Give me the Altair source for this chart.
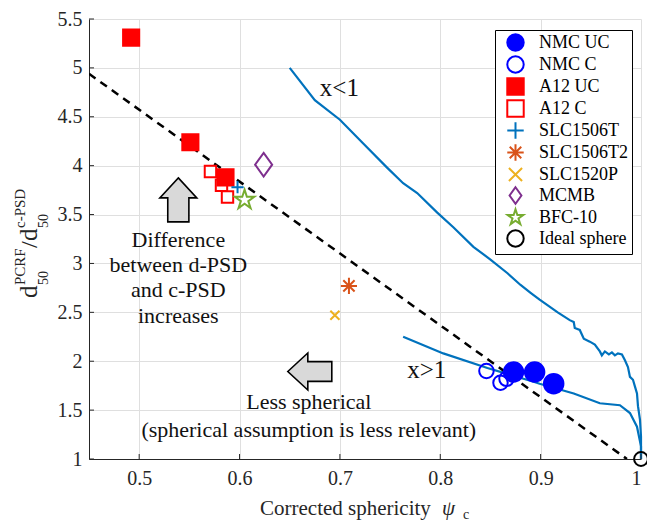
import altair as alt
import pandas as pd

SERIF = "Liberation Serif"

# ---------------- data ----------------
series_names = ["NMC UC", "NMC C", "A12 UC", "A12 C", "SLC1506T", "SLC1506T2",
                "SLC1520P", "MCMB", "BFC-10", "Ideal sphere"]

point_series = (["NMC UC"] * 3 + ["NMC C"] * 3 + ["A12 UC"] * 3 + ["A12 C"] * 3
                + ["SLC1506T", "SLC1506T2", "SLC1520P", "MCMB", "BFC-10", "Ideal sphere"])
point_x = [0.873, 0.894, 0.913,
           0.846, 0.860, 0.866,
           0.492, 0.551, 0.586,
           0.571, 0.582, 0.588,
           0.598, 0.709, 0.695, 0.624, 0.605, 1.0]
point_y = [1.89, 1.89, 1.77,
           1.90, 1.78, 1.82,
           5.31, 4.24, 3.88,
           3.94, 3.80, 3.68,
           3.78, 2.77, 2.47, 4.01, 3.65, 1.0]

# x<1 curve
upper_x = [0.650, 0.675, 0.700, 0.723, 0.747, 0.763, 0.777, 0.797, 0.813, 0.833,
           0.850, 0.867, 0.880, 0.890, 0.899, 0.917, 0.929, 0.933, 0.934, 0.939,
           0.943, 0.949, 0.954, 0.959, 0.961, 0.964, 0.968, 0.971, 0.974, 0.977,
           0.981, 0.984, 0.987, 0.989, 0.992, 0.994, 0.996, 0.997, 0.999, 1.0, 1.0]
upper_y = [5.00, 4.67, 4.47, 4.23, 3.98, 3.82, 3.72, 3.52, 3.37, 3.17,
           3.04, 2.90, 2.78, 2.70, 2.63, 2.50, 2.42, 2.40, 2.34, 2.32,
           2.23, 2.20, 2.17, 2.10, 2.06, 2.10, 2.07, 2.09, 2.06, 2.08,
           2.07, 2.01, 1.94, 1.84, 1.81, 1.74, 1.67, 1.54, 1.40, 1.23, 1.0]

# x>1 curve
lower_x = [0.763, 0.803, 0.847, 0.893, 0.899, 0.933, 0.959, 0.979, 0.989, 0.996, 1.0, 1.0]
lower_y = [2.25, 2.08, 1.93, 1.79, 1.77, 1.67, 1.57, 1.55, 1.47, 1.33, 1.13, 1.0]

# reference (dashed) line
ref_x = [0.45, 0.986]
ref_y = [4.94, 1.0]

x_ticks = [0.5, 0.6, 0.7, 0.8, 0.9, 1.0]
y_ticks = [1, 1.5, 2, 2.5, 3, 3.5, 4, 4.5, 5, 5.5]

annot_text = ["Difference", "between  d-PSD", "and c-PSD", "increases",
              "Less spherical", "(spherical assumption is less relevant)"]
annot_x = [0.539, 0.539, 0.539, 0.539, 0.669, 0.669]
annot_y = [3.24, 2.98, 2.73, 2.46, 1.58, 1.30]

curve_labels = ["x<1", "x>1"]
curve_label_x = [0.680, 0.767]
curve_label_y = [4.79, 1.91]

up_arrow_x, up_arrow_y = [0.539], [3.65]
left_arrow_x, left_arrow_y = [0.670], [1.895]

# ---------------- styles ----------------
PLUS = "M-1,0L1,0M0,-1L0,1"
ASTER = "M-1,0L1,0M0,-1L0,1M-0.7,-0.7L0.7,0.7M-0.7,0.7L0.7,-0.7"
XMARK = "M-0.8,-0.8L0.8,0.8M-0.8,0.8L0.8,-0.8"
DIAMOND = "M0,-1L0.72,0L0,1L-0.72,0Z"
STAR = ("M0,-1L0.2245,-0.309L0.951,-0.309L0.363,0.118L0.588,0.809L0,0.382"
        "L-0.588,0.809L-0.363,0.118L-0.951,-0.309L-0.2245,-0.309Z")
UP_ARROW = "M0,-1L0.84,-0.09L0.48,-0.09L0.48,1L-0.48,1L-0.48,-0.09L-0.84,-0.09Z"
LEFT_ARROW = "M-1,0L-0.09,-0.84L-0.09,-0.45L1,-0.45L1,0.45L-0.09,0.45L-0.09,0.84Z"

series_strokes = ["#0000FF", "#0000FF", "#FF0000", "#FF0000", "#0072BD", "#D95319",
                  "#EDB120", "#7E2F8E", "#77AC30", "#000000"]
series_fills = ["#0000FF", "transparent", "#FF0000", "transparent", "transparent",
                "transparent", "transparent", "transparent", "transparent", "transparent"]
series_shapes = ["circle", "circle", "square", "square", PLUS, ASTER, XMARK, DIAMOND, STAR, "circle"]
series_sizes = [380, 210, 260, 130, 150, 260, 130, 560, 420, 190]

W, H = 552, 440
AXIS_COL = "#262626"
GRID_COL = "#dfdfdf"

x_scale = alt.Scale(domain=[0.45, 1.0], nice=False, zero=False)
y_scale = alt.Scale(domain=[1, 5.5], nice=False, zero=False)

x_axis = alt.Axis(values=x_ticks, format="~g", title="", grid=True, gridColor=GRID_COL,
                  tickSize=0, labelFont=SERIF, labelFontSize=20, labelColor=AXIS_COL,
                  labelPadding=9, domainColor=AXIS_COL, domainWidth=1)
y_axis = alt.Axis(values=y_ticks, format="~g", title="", grid=True, gridColor=GRID_COL,
                  tickSize=0, labelFont=SERIF, labelFontSize=20, labelColor=AXIS_COL,
                  labelPadding=7, domainColor=AXIS_COL, domainWidth=1)

X = alt.X("x:Q", scale=x_scale, axis=x_axis)
Y = alt.Y("y:Q", scale=y_scale, axis=y_axis)

# ---------------- layers ----------------
df_pts = pd.DataFrame({"x": point_x, "y": point_y, "series": point_series,
                       "marker": point_series})

curve_df = pd.DataFrame({
    "x": upper_x + lower_x,
    "y": upper_y + lower_y,
    "curve": ["upper"] * len(upper_x) + ["lower"] * len(lower_x),
    "i": list(range(len(upper_x))) + list(range(len(lower_x))),
})
ref_df = pd.DataFrame({"x": ref_x, "y": ref_y, "i": [0, 1]})

curves = alt.Chart(curve_df).mark_line(color="#0072BD", strokeWidth=2.2).encode(
    x=X, y=Y, detail="curve:N", order="i:Q")

ref_line = alt.Chart(ref_df).mark_line(color="black", strokeWidth=2.5,
                                        strokeDash=[8, 6], clip=True).encode(
    x=X, y=Y, order="i:Q")

leg = alt.Legend(title=None, orient="none", legendX=406, legendY=11,
                 labelFont=SERIF, labelFontSize=18, labelColor="black",
                 padding=3, strokeColor="black", fillColor="white",
                 symbolOffset=8, labelOffset=14, symbolStrokeWidth=2, symbolOpacity=1,
                 symbolSize=270, rowPadding=-3.5, cornerRadius=0)

# the size scale uses a differently ordered domain so that it stays out of the legend
size_domain = series_names[::-1]
size_range = series_sizes[::-1]

points = alt.Chart(df_pts).mark_point(opacity=1, strokeWidth=2, fillOpacity=1).encode(
    x=X, y=Y,
    stroke=alt.Stroke("series:N", scale=alt.Scale(domain=series_names, range=series_strokes), legend=leg),
    fill=alt.Fill("series:N", scale=alt.Scale(domain=series_names, range=series_fills), legend=leg),
    shape=alt.Shape("series:N", scale=alt.Scale(domain=series_names, range=series_shapes), legend=leg),
    size=alt.Size("marker:N", scale=alt.Scale(type="ordinal", domain=size_domain, range=size_range),
                  legend=None),
)

annot_df = pd.DataFrame({"x": annot_x, "y": annot_y, "t": annot_text})
annots = alt.Chart(annot_df).mark_text(font=SERIF, fontSize=22, color="#111111",
                                       align="center", baseline="middle").encode(
    x=X, y=Y, text="t:N")

cl_df = pd.DataFrame({"x": curve_label_x, "y": curve_label_y, "t": curve_labels})
curve_lbls = alt.Chart(cl_df).mark_text(font=SERIF, fontSize=25, color="#111111",
                                        align="left", baseline="middle").encode(
    x=X, y=Y, text="t:N")

up_arrow = alt.Chart(pd.DataFrame({"x": up_arrow_x, "y": up_arrow_y})).mark_point(
    shape=UP_ARROW, size=1936, fill="#d9d9d9", fillOpacity=1, stroke="black",
    strokeWidth=1.6, opacity=1).encode(x=X, y=Y)
left_arrow = alt.Chart(pd.DataFrame({"x": left_arrow_x, "y": left_arrow_y})).mark_point(
    shape=LEFT_ARROW, size=1936, fill="#d9d9d9", fillOpacity=1, stroke="black",
    strokeWidth=1.6, opacity=1).encode(x=X, y=Y)

# inward tick marks
xt = alt.Chart(pd.DataFrame({"x": x_ticks})).mark_rule(color=AXIS_COL, strokeWidth=1).encode(
    x=X, y=alt.value(H), y2=alt.value(H - 5))
yt = alt.Chart(pd.DataFrame({"y": y_ticks})).mark_rule(color=AXIS_COL, strokeWidth=1).encode(
    y=Y, x=alt.value(0), x2=alt.value(5))


def label(text, x, y, size, angle=0, italic=False):
    return alt.Chart(pd.DataFrame({"a": [0]})).mark_text(
        text=text, font=SERIF, fontSize=size, angle=angle, align="left",
        baseline="alphabetic", color="#262626",
        fontStyle="italic" if italic else "normal").encode(
        x=alt.value(x), y=alt.value(y))


# axis titles with sub/superscripts
title_parts = [
    label("Corrected sphericity", 171, 496, 21),
    label("ψ", 353, 496, 21, italic=True),
    label("c", 374, 500, 14),
    label("d", -52, 279, 25, angle=270),
    label("50", -41, 266, 14, angle=270),
    label("PCRF", -64, 266, 15, angle=270),
    label("/", -52, 229, 24, angle=270),
    label("d", -52, 222, 25, angle=270),
    label("50", -41, 209, 14, angle=270),
    label("c-PSD", -64, 209, 15, angle=270),
]

chart = alt.layer(
    curves, ref_line, points, annots, curve_lbls, up_arrow, left_arrow, xt, yt, *title_parts
).properties(
    width=W, height=H,
    autosize=alt.AutoSizeParams(type="none"),
    padding={"left": 89, "top": 19, "right": 6, "bottom": 64},
    background="white",
).configure_view(strokeWidth=0)

chart.save("out.html", embed_options={"renderer": "svg", "actions": False})
